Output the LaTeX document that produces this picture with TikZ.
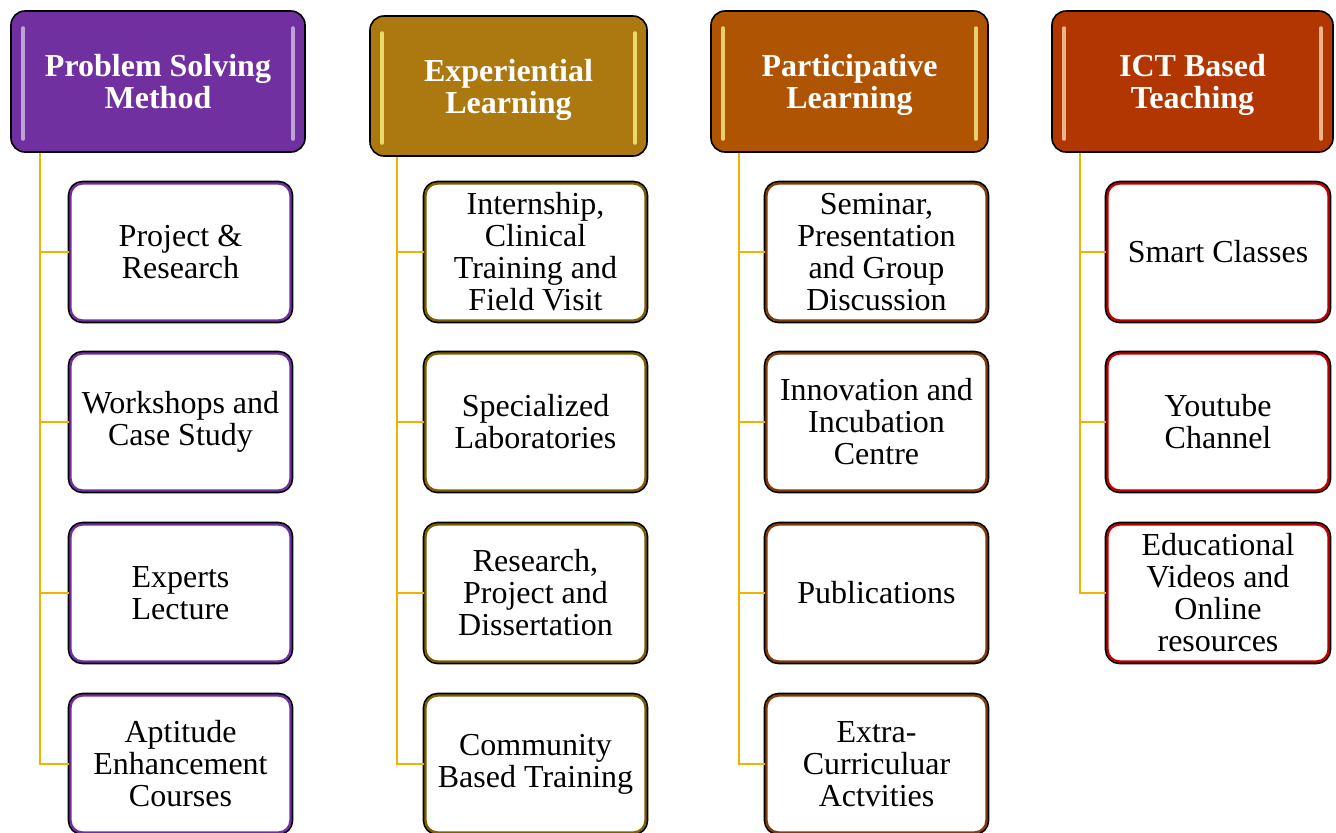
\documentclass[tikz,border=0pt]{standalone}
\usepackage{fontspec}
\setmainfont{Liberation Serif}
\usetikzlibrary{arrows.meta}
\definecolor{psviolet}{RGB}{112, 48, 160}
\definecolor{exgold}{RGB}{172, 120, 16}
\definecolor{parust}{RGB}{174, 84, 2}
\definecolor{ictred}{RGB}{178, 54, 2}
\definecolor{exolive}{RGB}{127, 96, 0}
\definecolor{pabrown}{RGB}{132, 60, 12}
\definecolor{ictcrimson}{RGB}{192, 0, 0}
\definecolor{linkgold}{RGB}{240, 180, 0}
\tikzset{
	head/.style={draw=black, line width=0.8pt, rounded corners=7pt, fill=#1,
		text=white, font=\fontsize{16}{16}\selectfont\bfseries, align=center,
		inner sep=0pt, text depth=0pt},
	item/.style={fill=white, draw=#1, line width=1.2pt, rounded corners=6pt,
		preaction={draw=black, line width=2.8pt},
		minimum width=110pt, minimum height=68.5pt, inner sep=0pt,
		align=center, font=\fontsize{16}{16}\selectfont},
	gloss/.style={draw=#1, line width=2pt, line cap=round},
	link/.style={draw=linkgold, line width=1pt}
}

\begin{document}
\begin{tikzpicture}[x=0.5pt, y=-0.5pt]
\useasboundingbox (0,0) rectangle (1336,832);

% --- HEADERS ---
\node[head=psviolet, minimum width=147pt, minimum height=70.5pt] (ps_head) at (158,81.5)
	{Problem Solving\\Method};
\node[head=exgold, minimum width=138.5pt, minimum height=70pt] (ex_head) at (508.5,86)
	{Experiential\\Learning};
\node[head=parust, minimum width=138.5pt, minimum height=70.5pt] (pa_head) at (849.5,81.5)
	{Participative\\Learning};
\node[head=ictred, minimum width=140.5pt, minimum height=70.5pt] (ict_head) at (1192.5,81.5)
	{ICT Based\\Teaching};

% glossy strips along the header sides
\draw[gloss=psviolet!45] ([xshift=6.5pt,yshift=-9pt]ps_head.north west) -- ([xshift=6.5pt,yshift=7pt]ps_head.south west);
\draw[gloss=psviolet!45] ([xshift=-6.5pt,yshift=-9pt]ps_head.north east) -- ([xshift=-6.5pt,yshift=7pt]ps_head.south east);
\draw[gloss=exgold!45!yellow!60] ([xshift=6.5pt,yshift=-9pt]ex_head.north west) -- ([xshift=6.5pt,yshift=7pt]ex_head.south west);
\draw[gloss=exgold!45!yellow!60] ([xshift=-6.5pt,yshift=-9pt]ex_head.north east) -- ([xshift=-6.5pt,yshift=7pt]ex_head.south east);
\draw[gloss=parust!50!yellow!55] ([xshift=6.5pt,yshift=-9pt]pa_head.north west) -- ([xshift=6.5pt,yshift=7pt]pa_head.south west);
\draw[gloss=parust!50!yellow!55] ([xshift=-6.5pt,yshift=-9pt]pa_head.north east) -- ([xshift=-6.5pt,yshift=7pt]pa_head.south east);
\draw[gloss=ictred!50!orange!45] ([xshift=6.5pt,yshift=-9pt]ict_head.north west) -- ([xshift=6.5pt,yshift=7pt]ict_head.south west);
\draw[gloss=ictred!50!orange!45] ([xshift=-6.5pt,yshift=-9pt]ict_head.north east) -- ([xshift=-6.5pt,yshift=7pt]ict_head.south east);

% --- PROBLEM SOLVING ---
\node[item=psviolet] (ps1) at (180.5,252) {Project \&\\Research};
\node[item=psviolet] (ps2) at (180.5,422) {Workshops and\\Case Study};
\node[item=psviolet] (ps3) at (180.5,593) {Experts\\Lecture};
\node[item=psviolet] (ps4) at (180.5,764) {Aptitude\\Enhancement\\Courses};

% --- EXPERIENTIAL ---
\node[item=exolive] (ex1) at (535.5,252) {Internship,\\Clinical\\Training and\\Field Visit};
\node[item=exolive] (ex2) at (535.5,422) {Specialized\\Laboratories};
\node[item=exolive] (ex3) at (535.5,593) {Research,\\Project and\\Dissertation};
\node[item=exolive] (ex4) at (535.5,764) {Community\\Based Training};

% --- PARTICIPATIVE ---
\node[item=pabrown] (pa1) at (876.5,252) {Seminar,\\Presentation\\and Group\\Discussion};
\node[item=pabrown] (pa2) at (876.5,422) {Innovation and\\Incubation\\Centre};
\node[item=pabrown] (pa3) at (876.5,593) {Publications};
\node[item=pabrown] (pa4) at (876.5,764) {Extra-\\Curriculuar\\Actvities};

% --- ICT ---
\node[item=ictcrimson, minimum width=110.5pt] (ict1) at (1218,252) {Smart Classes};
\node[item=ictcrimson, minimum width=110.5pt] (ict2) at (1218,422) {Youtube\\Channel};
\node[item=ictcrimson, minimum width=110.5pt] (ict3) at (1218,593) {Educational\\Videos and\\Online\\resources};

% --- CONNECTORS ---
\coordinate (ps_top) at ([xshift=15pt]ps_head.south west);
\coordinate (ex_top) at ([xshift=14pt]ex_head.south west);
\coordinate (pa_top) at ([xshift=14.5pt]pa_head.south west);
\coordinate (ict_top) at ([xshift=14.5pt]ict_head.south west);

\draw[link] (ps_top) |- (ps1.west);
\draw[link] (ps_top) |- (ps2.west);
\draw[link] (ps_top) |- (ps3.west);
\draw[link] (ps_top) |- (ps4.west);

\draw[link] (ex_top) |- (ex1.west);
\draw[link] (ex_top) |- (ex2.west);
\draw[link] (ex_top) |- (ex3.west);
\draw[link] (ex_top) |- (ex4.west);

\draw[link] (pa_top) |- (pa1.west);
\draw[link] (pa_top) |- (pa2.west);
\draw[link] (pa_top) |- (pa3.west);
\draw[link] (pa_top) |- (pa4.west);

\draw[link] (ict_top) |- (ict1.west);
\draw[link] (ict_top) |- (ict2.west);
\draw[link] (ict_top) |- (ict3.west);

\end{tikzpicture}
\end{document}
